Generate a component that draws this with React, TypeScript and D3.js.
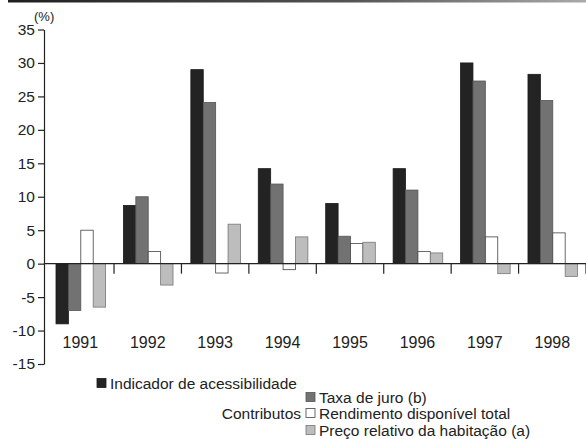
import React, { useEffect, useRef } from 'react';
import * as d3 from 'd3';

const years = ['1991', '1992', '1993', '1994', '1995', '1996', '1997', '1998'];
const seriesNames = [
  'Indicador de acessibilidade',
  'Taxa de juro (b)',
  'Rendimento disponível total',
  'Preço relativo da habitação (a)',
];
const indicador = [-9, 8.7, 29, 14.2, 9, 14.2, 30, 28.3];
const taxaJuro = [-7, 10, 24.1, 11.9, 4.1, 11, 27.3, 24.4];
const rendimento = [5, 1.8, -1.4, -0.9, 3, 1.8, 4, 4.6];
const precoRelativo = [-6.5, -3.2, 5.9, 4, 3.2, 1.6, -1.5, -1.9];
const yTicks = [-15, -10, -5, 0, 5, 10, 15, 20, 25, 30, 35];

const fills = ['#232323', '#727272', '#ffffff', '#bdbdbd'];
const strokes = ['#1a1a1a', '#555', '#444', '#777'];

const App: React.FC = () => {
  const svgRef = useRef<SVGSVGElement>(null);

  useEffect(() => {
    if (!svgRef.current) return;
    const svg = d3.select(svgRef.current);
    svg.selectAll('*').remove();

    const width = 586;
    const height = 439;
    const font = '"Liberation Sans", Arial, sans-serif';
    const ink = '#222';

    svg.attr('width', width).attr('height', height);

    // top rule, dark on the left fading out to the right
    const grad = svg.append('defs').append('linearGradient').attr('id', 'rule');
    grad.append('stop').attr('offset', '0%').attr('stop-color', '#1e1e1e');
    grad.append('stop').attr('offset', '60%').attr('stop-color', '#555');
    grad.append('stop').attr('offset', '100%').attr('stop-color', '#aaa');
    svg.append('rect').attr('x', 8).attr('y', 0).attr('width', width - 8).attr('height', 2.5)
      .attr('fill', 'url(#rule)');

    const y = d3.scaleLinear().domain([-15, 35]).range([364, 29.5]);
    const x = d3.scaleBand<string>().domain(years).range([46.6, 586]).padding(0);
    const inner = d3.scaleBand<number>().domain([0, 1, 2, 3]).range([9.4, 59]).padding(0);
    const axisX = 44;

    const data = [indicador, taxaJuro, rendimento, precoRelativo];

    // bars
    years.forEach((yr, i) => {
      data.forEach((s, k) => {
        const v = s[i];
        svg.append('rect')
          .attr('x', (x(yr) as number) + (inner(k) as number))
          .attr('y', y(Math.max(0, v)))
          .attr('width', inner.bandwidth())
          .attr('height', Math.abs(y(v) - y(0)))
          .attr('fill', fills[k])
          .attr('stroke', strokes[k])
          .attr('stroke-width', 0.8);
      });
    });

    // zero line with group separators
    svg.append('line').attr('x1', axisX).attr('x2', width).attr('y1', y(0)).attr('y2', y(0))
      .attr('stroke', ink).attr('stroke-width', 1.2);
    years.forEach(yr => {
      const xe = (x(yr) as number) + x.bandwidth();
      svg.append('line').attr('x1', xe).attr('x2', xe).attr('y1', y(0)).attr('y2', y(0) + 10)
        .attr('stroke', ink).attr('stroke-width', 1.2);
    });

    // y axis
    const yAxis = svg.append('g').attr('transform', `translate(${axisX},0)`)
      .call(d3.axisLeft(y).tickValues(yTicks).tickSize(6).tickPadding(3).tickSizeOuter(0)
        .tickFormat(d => String(d)));
    yAxis.select('.domain').attr('stroke', ink).attr('stroke-width', 1.2);
    yAxis.selectAll('.tick line').attr('stroke', ink).attr('stroke-width', 1.2);
    yAxis.selectAll('.tick text').attr('fill', ink).style('font-family', font).style('font-size', '15.5px');

    svg.append('text').attr('x', 34).attr('y', 21).attr('fill', ink)
      .style('font-family', font).style('font-size', '13px').text('(%)');

    // year labels
    svg.append('g').selectAll('text').data(years).enter().append('text')
      .attr('x', d => (x(d) as number) + x.bandwidth() / 2)
      .attr('y', 348)
      .attr('text-anchor', 'middle')
      .attr('fill', ink)
      .style('font-family', font)
      .style('font-size', '16px')
      .text(d => d);

    // legend
    const legendRows = [
      { sx: 97, ty: 383 },
      { sx: 306, ty: 397 },
      { sx: 306, ty: 413 },
      { sx: 306, ty: 430 },
    ];
    legendRows.forEach((r, k) => {
      svg.append('rect').attr('x', r.sx).attr('y', r.ty - 4.5).attr('width', 9).attr('height', 9)
        .attr('fill', fills[k]).attr('stroke', strokes[k]).attr('stroke-width', 0.8);
      svg.append('text').attr('x', r.sx + 13).attr('y', r.ty + 5.5).attr('fill', ink)
        .style('font-family', font).style('font-size', '15.5px').text(seriesNames[k]);
    });
    svg.append('text').attr('x', 301).attr('y', 418.5).attr('text-anchor', 'end').attr('fill', ink)
      .style('font-family', font).style('font-size', '15.5px').text('Contributos');
  }, []);

  return (
    <div style={{ position: 'absolute', left: 0, top: 0 }}>
      <svg ref={svgRef} style={{ display: 'block' }}></svg>
    </div>
  );
};

export default App;
